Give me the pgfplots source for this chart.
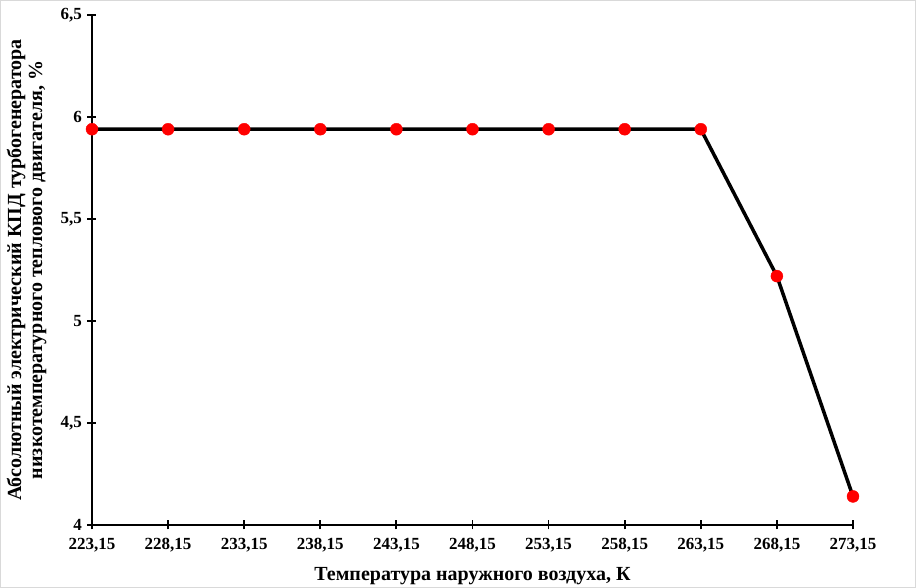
\documentclass[border=0pt]{standalone}
\usepackage{pgfplots}
\pgfplotsset{compat=1.18}
\usepackage{fontspec}
\setmainfont{Liberation Serif}
\begin{document}
\begin{tikzpicture}
\path[use as bounding box] (-92pt,-63pt) rectangle (824pt,525pt);
\draw[gray!30, line width=1.2pt] (-91.4pt,-62.4pt) rectangle (823.4pt,524.4pt);
\begin{axis}[
  at={(0pt,0pt)}, anchor=south west,
  scale only axis, width=761pt, height=510pt,
  xmin=223.15, xmax=273.15, ymin=4, ymax=6.5,
  axis x line=bottom, axis y line=left,
  axis line style={-, line width=2.2pt},
  xtick={223.15,228.15,233.15,238.15,243.15,248.15,253.15,258.15,263.15,268.15,273.15},
  xticklabels={{223,15},{228,15},{233,15},{238,15},{243,15},{248,15},{253,15},{258,15},{263,15},{268,15},{273,15}},
  ytick={4,4.5,5,5.5,6,6.5},
  yticklabels={4,{4,5},5,{5,5},6,{6,5}},
  tick align=center, major tick length=9pt,
  tick style={line width=1.8pt, black},
  tick label style={font=\bfseries\fontsize{17}{17}\selectfont},
  xticklabel style={yshift=-5pt},
  yticklabel style={xshift=-2pt},
  xlabel={Температура наружного воздуха, К},
  xlabel style={font=\bfseries\fontsize{20}{20}\selectfont, at={(axis description cs:0.5,0)}, anchor=north, yshift=-39pt},
  ylabel={Абсолютный электрический КПД турбогенератора\\низкотемпературного теплового двигателя, \%},
  ylabel style={font=\bfseries\fontsize{20}{21}\selectfont, align=center, at={(axis description cs:0,0.5)}, anchor=south, yshift=42pt},
  clip=false,
]
\addplot[black, line width=3.5pt, no marks]
coordinates {
(223.15,5.94) (228.15,5.94) (233.15,5.94) (238.15,5.94) (243.15,5.94) (248.15,5.94) (253.15,5.94) (258.15,5.94) (263.15,5.94) (268.15,5.22) (273.15,4.14)
};
\addplot[red, only marks, mark=*, mark size=6pt]
coordinates {
(223.15,5.94) (228.15,5.94) (233.15,5.94) (238.15,5.94) (243.15,5.94) (248.15,5.94) (253.15,5.94) (258.15,5.94) (263.15,5.94) (268.15,5.22) (273.15,4.14)
};
\end{axis}
\end{tikzpicture}
\end{document}
